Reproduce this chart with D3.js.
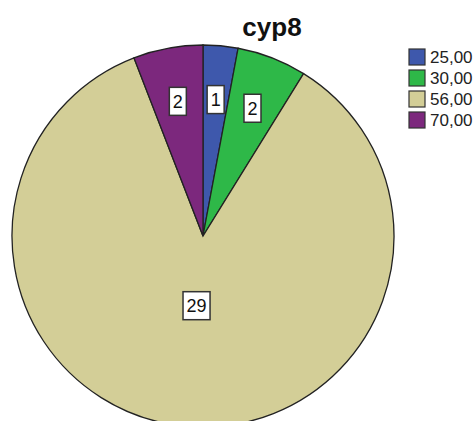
<!DOCTYPE html>
<html>
<head>
<meta charset="utf-8">
<script src="https://cdn.jsdelivr.net/npm/d3@7"></script>
<style>
  body { margin: 0; background: #fff; }
  svg { font-family: "Liberation Sans", Arial, sans-serif; }
</style>
</head>
<body>
<svg id="chart"></svg>
<script>
// chart data
var title = "cyp8";
var categories = ["25,00", "30,00", "56,00", "70,00"];
var counts = [1, 2, 29, 2];
var colors = ["#3E58AC", "#2EB848", "#D3CE97", "#7C287D"];

var width = 476,
    height = 421;

var cx = 203, cy = 236, radius = 191;

var svg = d3.select("#chart")
    .attr("width", width)
    .attr("height", height);

// title
svg.append("text")
    .attr("x", 272)
    .attr("y", 36)
    .attr("text-anchor", "middle")
    .attr("font-size", 26)
    .attr("font-weight", "bold")
    .attr("fill", "#111")
    .text(title);

var pie = d3.pie().sort(null).value(function (d) { return d; });
var arcs = pie(counts);

var arc = d3.arc().innerRadius(0).outerRadius(radius);

var g = svg.append("g")
    .attr("transform", "translate(" + cx + "," + cy + ")");

g.selectAll("path")
    .data(arcs)
    .enter()
    .append("path")
    .attr("d", arc)
    .attr("fill", function (d, i) { return colors[i]; })
    .attr("stroke", "#222")
    .attr("stroke-width", 1.3);

// labels: small slices near rim, the big one closer to the center
var total = d3.sum(counts);
var labels = g.selectAll("g.lbl")
    .data(arcs)
    .enter()
    .append("g")
    .attr("class", "lbl")
    .attr("transform", function (d) {
        var r = d.value / total > 0.5 ? 70 : 137;
        var c = d3.arc().innerRadius(r).outerRadius(r).centroid(d);
        return "translate(" + c[0] + "," + c[1] + ")";
    });

labels.each(function (d) {
    var lg = d3.select(this);
    var t = lg.append("text")
        .attr("text-anchor", "middle")
        .attr("dy", "0.36em")
        .attr("font-size", 18)
        .attr("fill", "#111")
        .text(d.value);
    var w = t.node().getComputedTextLength() + 7;
    lg.insert("rect", "text")
        .attr("x", -w / 2)
        .attr("y", -14)
        .attr("width", w)
        .attr("height", 28)
        .attr("fill", "#fff")
        .attr("stroke", "#333")
        .attr("stroke-width", 1.5);
});

// legend
var legend = svg.append("g")
    .attr("transform", "translate(409,49)");

var rows = legend.selectAll("g")
    .data(categories)
    .enter()
    .append("g")
    .attr("transform", function (d, i) { return "translate(0," + (i * 21) + ")"; });

rows.append("rect")
    .attr("width", 16)
    .attr("height", 16)
    .attr("fill", function (d, i) { return colors[i]; })
    .attr("stroke", "#333")
    .attr("stroke-width", 1.2);

rows.append("text")
    .attr("x", 21)
    .attr("y", 14)
    .attr("font-size", 17)
    .attr("fill", "#222")
    .text(function (d) { return d; });
</script>
</body>
</html>
